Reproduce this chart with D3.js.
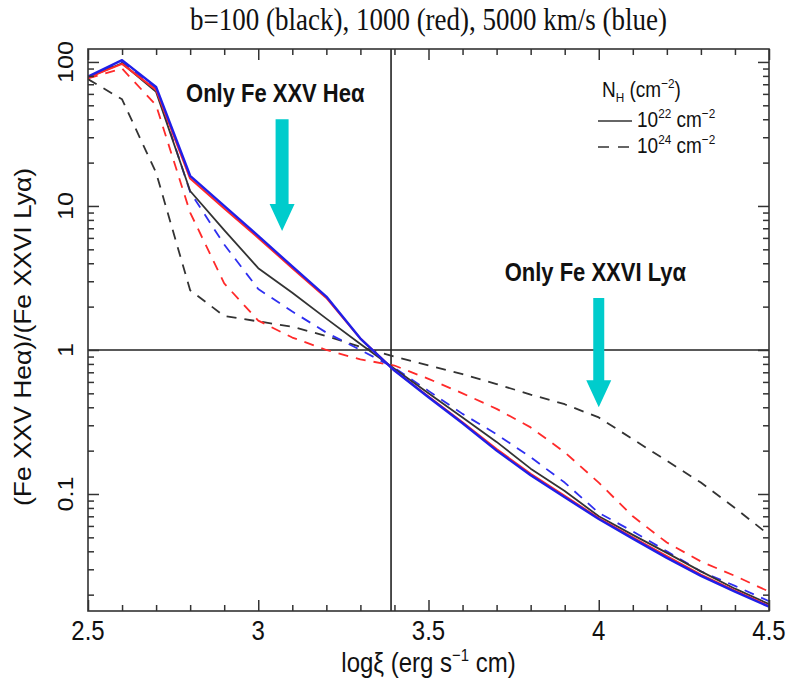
<!DOCTYPE html>
<html>
<head>
<meta charset="utf-8">
<script src="https://cdn.jsdelivr.net/npm/d3@7/dist/d3.min.js"></script>
<style>
  body { margin: 0; background: #fff; }
</style>
</head>
<body>
<svg id="chart" width="788" height="688"></svg>
<script>
// log xi grid
const logXi = [2.5, 2.6, 2.7, 2.8, 2.9, 3.0, 3.1, 3.2, 3.3, 3.4, 3.5,
               3.6, 3.7, 3.8, 3.9, 4.0, 4.1, 4.2, 4.3, 4.4, 4.5];

// NH = 1e22 (solid)
const b100_nh22  = [78, 98, 62, 12.7, 6.8, 3.7, 2.5, 1.65, 1.1, 0.74, 0.5,
                    0.34, 0.23, 0.15, 0.105, 0.07, 0.052, 0.039, 0.029, 0.022, 0.0172];
const b1000_nh22 = [78, 97, 64, 15.5, 9.6, 6.0, 3.7, 2.3, 1.2, 0.72, 0.475,
                    0.315, 0.205, 0.138, 0.097, 0.068, 0.05, 0.037, 0.0275, 0.0213, 0.0167];
const b5000_nh22 = [79, 103, 67, 16.2, 10, 6.2, 3.8, 2.35, 1.2, 0.72, 0.47,
                    0.31, 0.2, 0.135, 0.095, 0.067, 0.049, 0.036, 0.027, 0.021, 0.0165];

// NH = 1e24 (dashed)
const b100_nh24  = [76, 55, 17, 2.6, 1.72, 1.58, 1.45, 1.25, 1.05, 0.9, 0.78,
                    0.68, 0.58, 0.49, 0.42, 0.34, 0.24, 0.17, 0.12, 0.08, 0.052];
const b1000_nh24 = [77, 90, 50, 9, 2.9, 1.6, 1.22, 1.0, 0.86, 0.78, 0.63,
                    0.5, 0.39, 0.29, 0.195, 0.12, 0.07, 0.046, 0.034, 0.027, 0.021];
const b5000_nh24 = [78, 100, 65, 12.5, 5.4, 2.65, 1.85, 1.32, 1.0, 0.75, 0.52,
                    0.36, 0.26, 0.18, 0.12, 0.074, 0.055, 0.04, 0.029, 0.023, 0.018];

const xTicks = [2.5, 3, 3.5, 4, 4.5];
const xTickLabels = ["2.5", "3", "3.5", "4", "4.5"];
const yTicks = [0.1, 1, 10, 100];
const yTickLabels = ["0.1", "1", "10", "100"];
const xiMark = 3.39;

const W = 788, H = 688;
const margin = { top: 49, right: 19, bottom: 77, left: 88 };
const S = 1.15; // the original figure is stretched vertically

const svg = d3.select('#chart');

const x = d3.scaleLinear().domain([2.5, 4.5]).range([margin.left, W - margin.right]);
const y = d3.scaleLog().domain([0.0154, 123]).range([H - margin.bottom, margin.top]);

const sans = 'Liberation Sans, Arial, Helvetica, sans-serif';

// text helper: horizontal text stretched vertically, rotated text stretched along its length
function label(px, py, opts) {
  const tf = opts.rot
    ? `translate(${px},${py}) rotate(-90) scale(${S},1)`
    : `translate(${px},${py}) scale(1,${S})`;
  return svg.append('g').attr('transform', tf)
    .append('text')
    .attr('text-anchor', opts.anchor || 'middle')
    .style('font-family', opts.font || sans)
    .style('font-size', opts.size + 'px')
    .style('font-weight', opts.weight || 'normal')
    .style('fill', '#111');
}
// superscript, then back to the baseline with the following text
function sup(t, str, size, after) {
  t.append('tspan').attr('dy', -size * 0.4).style('font-size', (size * 0.62) + 'px').text(str);
  t.append('tspan').attr('dy', size * 0.4).text(after);
}

// title
label((x(2.5) + x(4.5)) / 2, 30, { size: 27, font: 'Liberation Serif, Times New Roman, serif' })
  .text('b=100 (black), 1000 (red), 5000 km/s (blue)');

// clip
svg.append('clipPath').attr('id', 'plot')
  .append('rect')
  .attr('x', x(2.5)).attr('y', y(123))
  .attr('width', x(4.5) - x(2.5)).attr('height', y(0.0154) - y(123));

// reference lines
svg.append('line')
  .attr('x1', x(xiMark)).attr('x2', x(xiMark))
  .attr('y1', y(123)).attr('y2', y(0.0154))
  .attr('stroke', '#222').attr('stroke-width', 1.6);
svg.append('line')
  .attr('x1', x(2.5)).attr('x2', x(4.5))
  .attr('y1', y(1)).attr('y2', y(1))
  .attr('stroke', '#222').attr('stroke-width', 1.6);

// curves
const series = [
  { vals: b100_nh24,  color: '#333333', dash: '10,8', w: 1.8 },
  { vals: b1000_nh24, color: '#ff2a2a', dash: '10,8', w: 1.8 },
  { vals: b5000_nh24, color: '#2f2ff0', dash: '10,8', w: 1.8 },
  { vals: b100_nh22,  color: '#333333', dash: null,   w: 1.8 },
  { vals: b1000_nh22, color: '#ff2a2a', dash: null,   w: 2.0 },
  { vals: b5000_nh22, color: '#1f1fe8', dash: null,   w: 2.4 }
];

const line = d3.line()
  .x((d, i) => x(logXi[i]))
  .y(d => y(d));

svg.append('g').attr('clip-path', 'url(#plot)')
  .selectAll('path')
  .data(series)
  .enter()
  .append('path')
  .attr('d', d => line(d.vals))
  .attr('fill', 'none')
  .attr('stroke', d => d.color)
  .attr('stroke-width', d => d.w)
  .attr('stroke-dasharray', d => d.dash)
  .attr('stroke-linejoin', 'round');

// axes, ticks pointing inwards on all sides
const xMinor = d3.range(2.5, 4.5001, 0.1).filter(v => !xTicks.some(t => Math.abs(t - v) < 1e-6));
const yMinor = [];
[0.01, 0.1, 1, 10].forEach(dec => {
  for (let k = 2; k <= 9; k++) {
    const v = dec * k;
    if (v > 0.0154 && v < 123) yMinor.push(v);
  }
});

const axes = [
  { fn: d3.axisBottom, sc: x, tr: `translate(0,${y(0.0154)})`, major: xTicks, minor: xMinor },
  { fn: d3.axisTop,    sc: x, tr: `translate(0,${y(123)})`,    major: xTicks, minor: xMinor },
  { fn: d3.axisLeft,   sc: y, tr: `translate(${x(2.5)},0)`,    major: yTicks, minor: yMinor },
  { fn: d3.axisRight,  sc: y, tr: `translate(${x(4.5)},0)`,    major: yTicks, minor: yMinor }
];
axes.forEach(a => {
  const g = svg.append('g').attr('transform', a.tr);
  g.append('g').call(a.fn(a.sc).tickValues(a.major).tickSizeInner(-11).tickSizeOuter(0).tickFormat(''));
  g.append('g').call(a.fn(a.sc).tickValues(a.minor).tickSizeInner(-6).tickSizeOuter(0).tickFormat(''));
  g.selectAll('.domain').remove();
  g.selectAll('line').attr('stroke', '#333').attr('stroke-width', 1.5);
});

// frame
svg.append('rect')
  .attr('x', x(2.5)).attr('y', y(123))
  .attr('width', x(4.5) - x(2.5)).attr('height', y(0.0154) - y(123))
  .attr('fill', 'none').attr('stroke', '#333').attr('stroke-width', 1.6);

// tick labels
xTicks.forEach((v, i) => {
  label(x(v), y(0.0154) + 29, { size: 24 }).text(xTickLabels[i]);
});
yTicks.forEach((v, i) => {
  label(x(2.5) - 15, y(v), { size: 22, rot: true }).text(yTickLabels[i]);
});

// axis titles
const xt = label((x(2.5) + x(4.5)) / 2, H - 16, { size: 24 });
xt.append('tspan').text('logξ (erg s');
sup(xt, '−1', 24, ' cm)');

label(31, 337, { size: 23, rot: true }).text('(Fe XXV Heα)/(Fe XXVI Lyα)');

// annotations with arrows
const notes = [
  { text: 'Only Fe XXV Heα',  tx: 3.05, ty: 53,  ax: 3.07, y0: 40,  y1: 6.7,  sw: 6.5 },
  { text: 'Only Fe XXVI Lyα', tx: 3.99, ty: 3.0, ax: 4.0,  y0: 2.3, y1: 0.40, sw: 5.5 }
];
notes.forEach(n => {
  label(x(n.tx), y(n.ty), { size: 22, weight: 'bold' }).text(n.text);
  const cx = x(n.ax), top = y(n.y0), tip = y(n.y1), hl = 27, hw = 12.5;
  const p = d3.path();
  p.moveTo(cx - n.sw, top);
  p.lineTo(cx + n.sw, top);
  p.lineTo(cx + n.sw, tip - hl);
  p.lineTo(cx + hw, tip - hl);
  p.lineTo(cx, tip);
  p.lineTo(cx - hw, tip - hl);
  p.lineTo(cx - n.sw, tip - hl);
  p.closePath();
  svg.append('path').attr('d', p.toString()).attr('fill', '#00cccc');
});

// legend
const lx = 598, ly = 97;
const fs = 19;
const lt = label(lx + 4, ly, { size: fs, anchor: 'start' });
lt.append('tspan').text('N');
lt.append('tspan').attr('dy', 4).style('font-size', (fs * 0.62) + 'px').text('H');
lt.append('tspan').attr('dy', -4).text(' (cm');
sup(lt, '−2', fs, ')');

[{ dash: null, exp: '22' }, { dash: '11,9', exp: '24' }].forEach((d, i) => {
  const yy = ly + 24 + i * 26;
  svg.append('line')
    .attr('x1', lx).attr('x2', lx + 34)
    .attr('y1', yy).attr('y2', yy)
    .attr('stroke', '#333').attr('stroke-width', 1.6)
    .attr('stroke-dasharray', d.dash);
  const t = label(lx + 39, yy + 6, { size: fs, anchor: 'start' });
  t.append('tspan').text('10');
  sup(t, d.exp, fs, ' cm');
  sup(t, '−2', fs, '');
});
</script>
</body>
</html>
